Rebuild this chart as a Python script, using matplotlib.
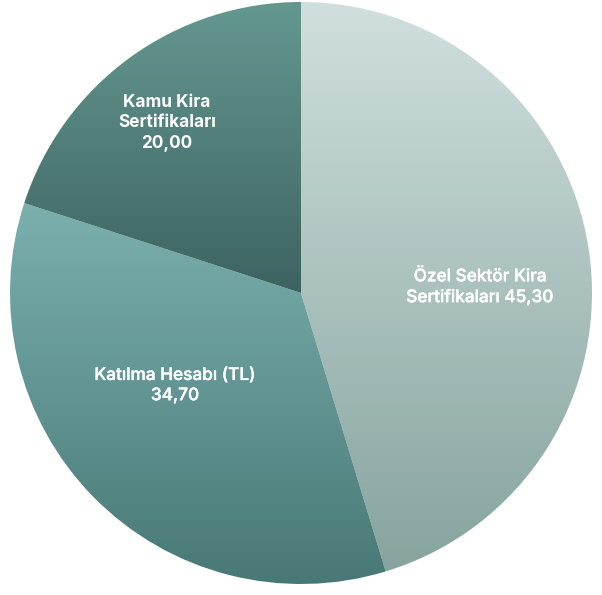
import numpy as np
import matplotlib.pyplot as plt
import matplotlib.patheffects as pe
from matplotlib.colors import LinearSegmentedColormap

# data
labels = ['Özel Sektör Kira\nSertifikaları 45,30', 'Katılma Hesabı (TL)\n34,70', 'Kamu Kira\nSertifikaları\n20,00']
values = [45.30, 34.70, 20.00]
top_colors = ['#d0dfde', '#7bb0ae', '#64988f']
bottom_colors = ['#86a49f', '#477876', '#3d6361']
label_weights = ['medium', 'medium', 'bold']
label_xy = [(0.615, 0.02), (-0.433, -0.318), (-0.46, 0.585)]

W, H = 602, 595
cx, cy, R = 301, 302, 291  # centre from bottom-left, radius in px

fig = plt.figure(figsize=(W / 100, H / 100), dpi=100)
ax = fig.add_axes([0, 0, 1, 1])

wedges, _ = ax.pie(values, startangle=90, counterclock=False, radius=1,
                   wedgeprops=dict(linewidth=0))

for w, c0, c1 in zip(wedges, top_colors, bottom_colors):
    # vertical gradient over the wedge's own bounding box
    path = w.get_path()
    verts = w.get_patch_transform().transform(path.vertices)
    x0, x1 = verts[:, 0].min(), verts[:, 0].max()
    y0, y1 = verts[:, 1].min(), verts[:, 1].max()
    cmap = LinearSegmentedColormap.from_list('g', [c1, c0])
    grad = np.linspace(0, 1, 256).reshape(-1, 1)
    im = ax.imshow(grad, cmap=cmap, extent=(x0, x1, y0, y1), origin='lower',
                   aspect='auto', zorder=1, interpolation='bicubic')
    im.set_clip_path(w)
    w.set_facecolor('none')

for (x, y), text, wt in zip(label_xy, labels, label_weights):
    t = ax.text(x, y, text, ha='center', va='center', color='white',
                fontsize=12.4, fontweight=wt, family=['Inter', 'DejaVu Sans'],
                linespacing=1.25, zorder=3)
    if wt == 'medium':
        # Inter here has no medium cut, thicken the regular one a bit
        t.set_path_effects([pe.withStroke(linewidth=0.3, foreground='white')])

ax.set_xlim(-cx / R, (W - cx) / R)
ax.set_ylim(-cy / R, (H - cy) / R)
ax.set_aspect('auto')
ax.axis('off')

fig.savefig('out.png', dpi=100, facecolor='white')
